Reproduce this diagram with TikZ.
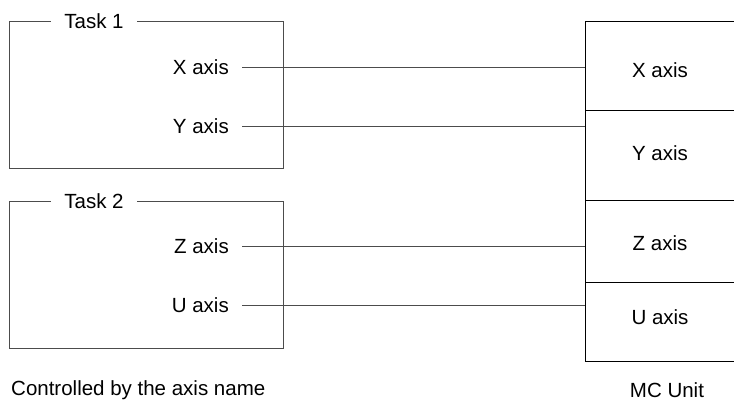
\documentclass[tikz,border=0pt]{standalone}
\usepackage{fontspec}
\setmainfont{Liberation Sans}
\begin{document}
\begin{tikzpicture}[x=1pt,y=-1pt,
  every node/.style={font=\fontsize{20.5}{24}\selectfont, inner sep=0pt},
  taskbox/.style={draw=black!70, line width=1pt, minimum width=274pt, minimum height=147pt, anchor=north west},
  tasktitle/.style={fill=white, inner xsep=13pt, inner ysep=2pt},
  axlabel/.style={anchor=east, inner xsep=13pt},
  cell/.style={draw=black, line width=1pt, minimum width=151pt, anchor=north west},
  conn/.style={draw=black!70, line width=1pt}]
\useasboundingbox (0,0) rectangle (734,402);
% Task boxes
\node[taskbox] (t1) at (9,21) {};
\node[tasktitle] (t1title) at (94,21) {Task 1};
\node[taskbox] (t2) at (9,201) {};
\node[tasktitle] (t2title) at (94,201) {Task 2};
% axis labels in tasks
\node[axlabel] (xl) at (242,67) {X axis};
\node[axlabel] (yl) at (242,126) {Y axis};
\node[axlabel] (zl) at (242,246) {Z axis};
\node[axlabel] (ul) at (242,305) {U axis};
% MC unit cells
\node[cell, minimum height=89pt] (mx) at (585,21) {};
\node[cell, minimum height=90pt] (my) at (585,110) {};
\node[cell, minimum height=82pt] (mz) at (585,200) {};
\node[cell, minimum height=79pt] (mu) at (585,282) {};
\node (mxt) at (660,70) {X axis};
\node (myt) at (660,153) {Y axis};
\node (mzt) at (660,243) {Z axis};
\node (mut) at (660,317) {U axis};
% connectors
\draw[conn] (xl.east) -- (xl.east -| mx.west);
\draw[conn] (yl.east) -- (yl.east -| my.west);
\draw[conn] (zl.east) -- (zl.east -| mz.west);
\draw[conn] (ul.east) -- (ul.east -| mu.west);
% captions
\node[anchor=west] (cap1) at (11,390) {Controlled by the axis name};
\node (cap2) at (667,390) {MC Unit};
\end{tikzpicture}
\end{document}
